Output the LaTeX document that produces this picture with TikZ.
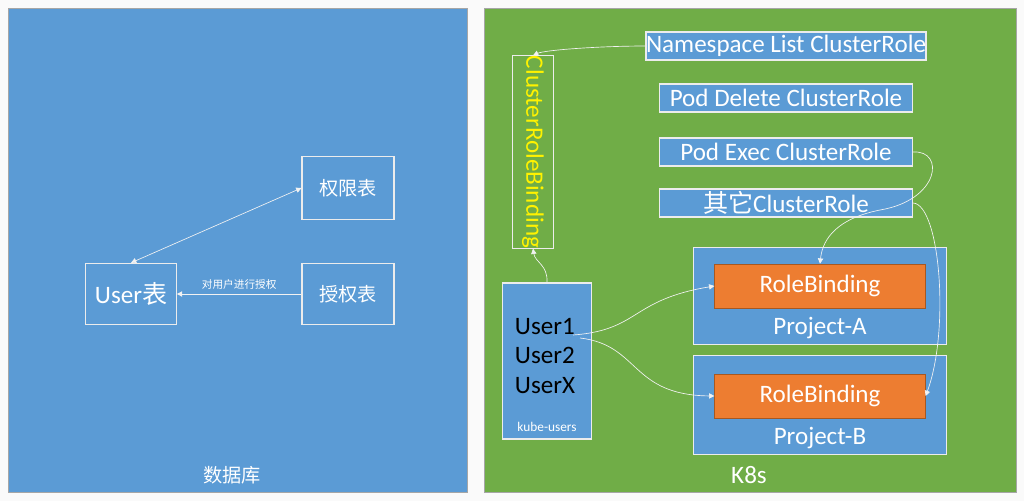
\documentclass[tikz,border=0pt]{standalone}
\usepackage{fontspec}
\setmainfont{Carlito}
\newfontfamily\cjk{Noto Sans CJK SC}
\usetikzlibrary{arrows.meta}
\definecolor{bl}{HTML}{5B9BD5}
\definecolor{gr}{HTML}{70AD47}
\definecolor{og}{HTML}{ED7D31}
\newcommand{\bigf}{\fontsize{18.8}{22}\selectfont}
\tikzset{x=0.75pt,y=-0.75pt,
 box/.style={draw=white!85!gray,line width=0.8pt,fill=bl,text=white,inner sep=0},
 arr/.style={draw=white!90!gray,line width=0.5pt,-{Triangle[width=4pt,length=4pt]}},
 lbl/.style={text=white,font=\cjk}}
\begin{document}
\begin{tikzpicture}
\useasboundingbox[fill=white!96!gray] (0,0) rectangle (1024,501);
\path[fill=bl,draw=gray!70] (8,8) rectangle (467,492);
\path[fill=gr,draw=gray!70] (484,8) rectangle (1016,492);
\node[box,minimum width=69pt,minimum height=47pt,font=\cjk\Large] (qx) at (348,188) {权限表};
\node[box,minimum width=68pt,minimum height=46pt,font=\bigf] (user) at (131,294) {User{\cjk 表}};
\node[box,minimum width=69pt,minimum height=46pt,font=\cjk\Large] (sq) at (348,294) {授权表};
\draw[arr,{Triangle[width=4pt,length=4pt]}-{Triangle[width=4pt,length=4pt]}] (user.north) -- (qx.west);
\draw[arr] (sq.west) -- node[above,lbl,font=\cjk\footnotesize]{对用户进行授权} (user.east);
\node[lbl,font=\cjk\Large] (dbl) at (232,475) {数据库};
\node[box,minimum width=190pt,minimum height=21pt,font=\bigf] (ns) at (786,46) {Namespace List ClusterRole};
\node[box,minimum width=190pt,minimum height=21pt,font=\bigf] (pd) at (786,98) {Pod Delete ClusterRole};
\node[box,minimum width=190pt,minimum height=21pt,font=\bigf] (pe) at (786,152) {Pod Exec ClusterRole};
\node[box,minimum width=190pt,minimum height=21pt,font=\bigf] (qt) at (786,203) {{\cjk 其它}ClusterRole};
\node[draw=white!85!gray,line width=0.8pt,minimum width=128pt,minimum height=31pt,rotate=-90,text=yellow,font=\bigf,inner sep=0] (crb) at (533,152) {ClusterRoleBinding};
\node[box,minimum width=67pt,minimum height=117pt] (ku) at (547,361) {};
\node[text=black,font=\bigf,align=left,inner sep=0] (us) at (545,356) {User1\\[0pt]User2\\[0pt]UserX};
\node[text=white] (kul) at (547,427) {kube-users};
\node[box,minimum width=190pt,minimum height=73pt] (pa) at (820,296) {};
\node[box,minimum width=190pt,minimum height=74pt] (pb) at (820,405) {};
\node[draw=og!70!black,fill=og,text=white,minimum width=158pt,minimum height=33pt,font=\bigf,inner sep=0] (ra) at (820,286) {RoleBinding};
\node[draw=og!70!black,fill=og,text=white,minimum width=158pt,minimum height=33pt,font=\bigf,inner sep=0] (rb) at (820,396) {RoleBinding};
\node[text=white,font=\bigf] (pal) at (820,328) {Project-A};
\node[text=white,font=\bigf] (pbl) at (820,438) {Project-B};
\node[text=white,font=\bigf] (k8) at (749,475) {K8s};
\draw[arr] (ns.west) .. controls (600,46) and (545,50) .. (crb.west);
\draw[arr] (ku.north) .. controls (548,265) and (535,262) .. (crb.east);
\draw[arr] (pe.east) .. controls (945,150) and (940,200) .. (880,210) .. controls (830,220) and (822,245) .. (ra.north);
\draw[arr] (qt.east) .. controls (940,205) and (950,330) .. (rb.east);
\coordinate (u1) at (573,335);
\coordinate (u2) at (580,338);
\draw[arr] (u1) .. controls (640,330) and (630,300) .. (ra.west);
\draw[arr] (u2) .. controls (640,345) and (630,395) .. (rb.west);
\end{tikzpicture}
\end{document}
